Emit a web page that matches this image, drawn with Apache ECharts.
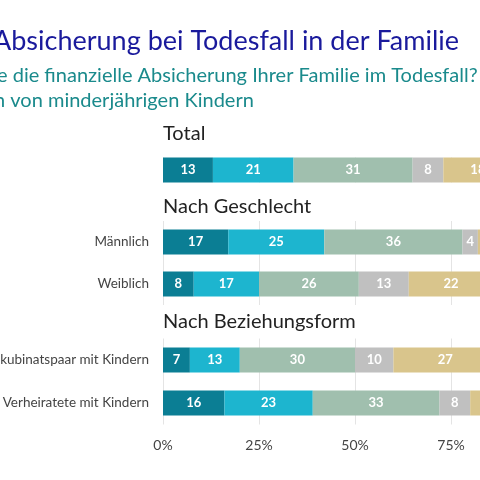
<!DOCTYPE html><html><head><meta charset="utf-8"><script src="https://cdn.jsdelivr.net/npm/echarts@6/dist/echarts.min.js"></script></head><body style="margin:0"><div id="c" style="width:480px;height:480px"></div><script>
const categories=["Total","Männlich","Weiblich","Konkubinatspaar mit Kindern","Verheiratete mit Kindern"];
const groups=[[0],[1,2],[3,4]];
const headers=["Total","Nach Geschlecht","Nach Beziehungsform"];
const s1=[13,17,8,7,16];
const s2=[21,25,17,13,23];
const s3=[31,36,26,30,33];
const s4=[8,4,13,10,8];
const s5=[18,12,22,27,14];
const s6=[9,6,14,13,6];
const seriesVals=[s1,s2,s3,s4,s5,s6];
const colors=["#0b7e94","#1db5cf","#a0bfae","#c0c0c0","#d9c58c","#c9a86a"];
const tickLabels=["0%","25%","50%","75%","100%"];
const gridPos=[{top:157.5,height:25},{top:221,height:84},{top:338.5,height:86}];
const grids=gridPos.map(g=>({left:163,width:384,top:g.top,height:g.height,containLabel:false,outerBoundsMode:'none'}));
const xAxes=grids.map((g,i)=>({gridIndex:i,type:'value',min:0,max:100,interval:25,
 axisLabel:{show:i===2,formatter:v=>tickLabels[v/25],color:'#444',fontSize:14,fontFamily:'Lato',margin:14},
 splitLine:{lineStyle:{color:'#e4e4e4'}},axisLine:{show:false},axisTick:{show:false}}));
const yAxes=groups.map((idx,i)=>({gridIndex:i,type:'category',inverse:true,data:idx.map(k=>categories[k]),
 axisLabel:{show:i>0,color:'#444',fontSize:13.5,fontFamily:'Lato',margin:14},axisLine:{show:false},axisTick:{show:false}}));
const series=[];
groups.forEach((idx,gi)=>{seriesVals.forEach((vals,si)=>{series.push({type:'bar',stack:'g'+gi,xAxisIndex:gi,yAxisIndex:gi,barWidth:25,
 itemStyle:{color:colors[si]},data:idx.map(k=>vals[k]),
 label:{show:true,color:'#fff',fontWeight:'bold',fontSize:13,fontFamily:'Lato'}});});});
const headerY=[137,210,325];
const graphic=headers.map((h,i)=>({type:'text',left:163,top:headerY[i]-13,style:{text:h,fontSize:20,fill:'#222',fontFamily:'Lato'}}));
graphic.push({type:'text',left:-7,top:28,style:{text:"Absicherung bei Todesfall in der Familie",fontSize:27,fill:'#1a1a9c',fontFamily:'Lato'}});
graphic.push({type:'text',left:-3,top:66,style:{text:"Wie beurteilen Sie die finanzielle Absicherung Ihrer Familie im Todesfall?".slice(17),fontSize:20,fill:'#1a8a8c',fontFamily:'Lato'}});
graphic.push({type:'text',left:-6,top:91,style:{text:"n von minderjährigen Kindern",fontSize:20,fill:'#1a8a8c',fontFamily:'Lato'}});
const ch=echarts.init(document.getElementById('c'));
ch.setOption({animation:false,grid:grids,xAxis:xAxes,yAxis:yAxes,series,graphic});
</script></body></html>
